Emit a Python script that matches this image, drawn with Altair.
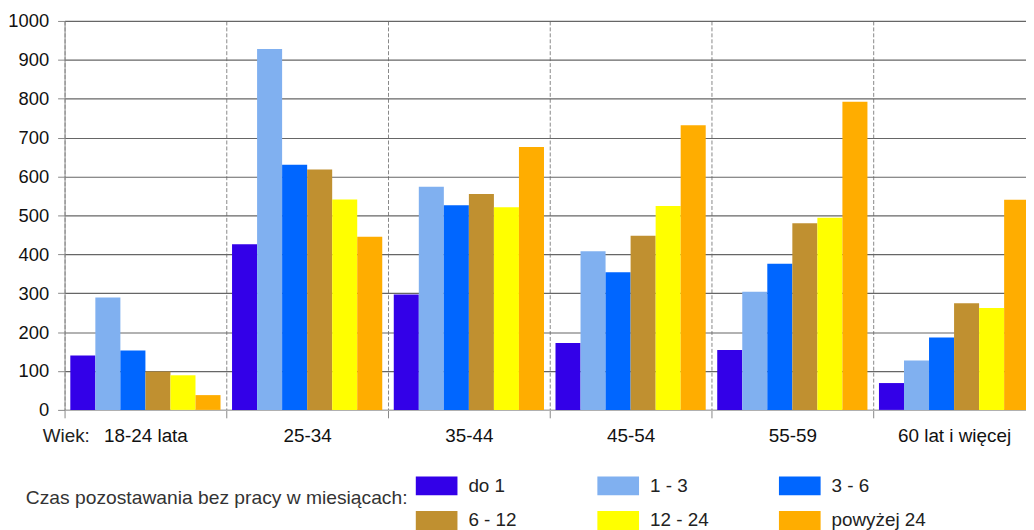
import altair as alt
import pandas as pd

groups = ["18-24 lata", "25-34", "35-44", "45-54", "55-59", "60 lat i więcej"]
durations = ["do 1", "1 - 3", "3 - 6", "6 - 12", "12 - 24", "powyżej 24"]
colors = ["#3300E8", "#80B0F0", "#0066FF", "#C09030", "#FFFF00", "#FFAD00"]

v_do_1 = [140, 426, 297, 172, 154, 69]
v_1_3 = [289, 928, 574, 408, 304, 127]
v_3_6 = [153, 630, 526, 354, 376, 186]
v_6_12 = [99, 618, 555, 448, 480, 274]
v_12_24 = [89, 541, 521, 524, 494, 262]
v_over_24 = [38, 445, 676, 732, 792, 540]

y_ticks = list(range(0, 1001, 100))
axis_prefix = ["Wiek:"]
legend_title = "Czas pozostawania bez pracy w miesiącach:"

series = [v_do_1, v_1_3, v_3_6, v_6_12, v_12_24, v_over_24]
rows = []
for d, vals in zip(durations, series):
    for g, v in zip(groups, vals):
        rows.append({"wiek": g, "czas": d, "wartosc": v})
df = pd.DataFrame(rows)

FONT = "Liberation Sans"

bars = alt.Chart(df).mark_bar().encode(
    x=alt.X(
        "wiek:N",
        sort=groups,
        scale=alt.Scale(paddingInner=0, paddingOuter=0, rangeMin=0, rangeMax=978),
        axis=alt.Axis(
            title=None, labelAngle=0, tickBand="extent", grid=True,
            gridDash=[4, 2], gridColor="#888888", gridWidth=1,
            domainColor="#bbbbbb", tickColor="#888888", tickSize=8,
            labelPadding=9, labelFontSize=19, labelColor="#111111", labelFont=FONT,
        ),
    ),
    xOffset=alt.XOffset("czas:N", sort=durations,
                        scale=alt.Scale(paddingOuter=0.23, paddingInner=0)),
    y=alt.Y(
        "wartosc:Q",
        scale=alt.Scale(domain=[0, 1000], nice=False),
        axis=alt.Axis(
            values=y_ticks, format="d", title=None, grid=True, gridColor="#666666",
            gridWidth=1.2, domainColor="#888888", tickColor="#888888",
            tickSize=7, labelPadding=9, labelFontSize=18.5,
            labelColor="#111111", labelFont=FONT,
        ),
    ),
    color=alt.Color(
        "czas:N", sort=durations,
        scale=alt.Scale(domain=durations, range=colors),
        legend=alt.Legend(
            orient="none", legendX=-39, legendY=447.5, direction="horizontal",
            columns=3, title=legend_title, titleOrient="left", titleLimit=600,
            titleFontSize=19.4, titleFontWeight="normal", titleColor="#333333",
            titleFont=FONT, titlePadding=8, labelFontSize=19,
            labelColor="#222222", labelFont=FONT,
            symbolType="M-1,-0.452L1,-0.452L1,0.452L-1,0.452Z",
            symbolSize=1764, symbolStrokeWidth=0, symbolOpacity=1,
            labelOffset=11, gridAlign="all", columnPadding=34, rowPadding=4,
        ),
    ),
)

prefix = alt.Chart(pd.DataFrame({"t": axis_prefix})).mark_text(
    align="left", baseline="alphabetic", fontSize=19, font=FONT, color="#222222"
).encode(text="t:N", x=alt.value(-22), y=alt.value(424))

chart = alt.layer(bars, prefix).properties(
    width=969, height=392, autosize="none",
    padding={"left": 57, "top": 11, "right": 0, "bottom": 119},
    background="white",
).configure_view(stroke=None)

chart.save("out.html", embed_options={"renderer": "svg", "actions": False})
